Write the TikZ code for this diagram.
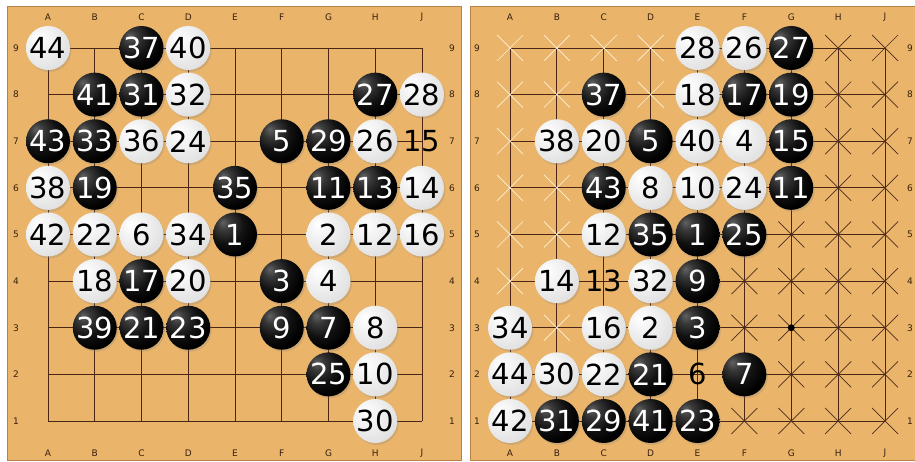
\documentclass[tikz,border=0pt]{standalone}
\usepackage{fontspec}
\newfontfamily\numfont{DejaVu Sans}
\usetikzlibrary{shadows}
\definecolor{wood}{RGB}{234,181,106}
\definecolor{woodedge}{RGB}{185,130,70}
\definecolor{gridc}{RGB}{75,38,22}
\definecolor{lblc}{RGB}{55,30,15}
\definecolor{xwhite}{RGB}{252,242,215}
\definecolor{xdark}{RGB}{75,45,28}
\pgfdeclareradialshading{blackstone}{\pgfpoint{-14bp}{14bp}}{color(0bp)=(black!62); color(8bp)=(black!78); color(20bp)=(black!93); color(32bp)=(black); color(80bp)=(black)}
\pgfdeclareradialshading{whitestone}{\pgfpoint{-12bp}{12bp}}{color(0bp)=(white); color(14bp)=(white!95!black); color(34bp)=(white!88!black); color(52bp)=(white!77!black); color(80bp)=(white!65!black)}
\begin{document}
\begin{tikzpicture}[x=1pt,y=1pt,
  board/.style={fill=wood, draw=woodedge, line width=1pt},
  gridline/.style={draw=gridc, line width=0.9pt},
  stonebase/.style={circle, minimum size=44pt, inner sep=0pt,
    font=\numfont\fontsize{29}{29}\selectfont,
    drop shadow={shadow xshift=1.5pt, shadow yshift=-2pt, opacity=0.25}},
  bst/.style={stonebase, shading=blackstone, text=white},
  wst/.style={stonebase, shading=whitestone, text=black},
  txt/.style={inner sep=0pt, font=\numfont\fontsize{29}{29}\selectfont, text=black},
  coordlbl/.style={inner sep=0pt, font=\numfont\fontsize{9}{9}\selectfont, text=lblc},
  wx/.style={draw=xwhite, line width=0.7pt},
  dx/.style={draw=xdark, line width=0.7pt}]
\useasboundingbox (0,0) rectangle (915,462);
\clip (0,0) rectangle (915,462);
\fill[white] (0,0) rectangle (915,462);
% boards
\draw[board] (7,1) rectangle (461,455);
\draw[board] (470,1) rectangle (930,455);
% grid coordinates
\foreach \c [count=\i from 0] in {A,B,C,D,E,F,G,H,J}{
  \foreach \r in {1,...,9}{
    \coordinate (L\c\r) at ({48+46.75*\i},{414-46.625*(9-\r)});
    \coordinate (R\c\r) at ({510+46.875*\i},{414-46.625*(9-\r)});
  }
}
% grid lines
\foreach \c in {A,B,C,D,E,F,G,H,J}{
  \draw[gridline] (L\c9) -- (L\c1);
  \draw[gridline] (R\c9) -- (R\c1);
}
\foreach \r in {1,...,9}{
  \draw[gridline] (LA\r) -- (LJ\r);
  \draw[gridline] (RA\r) -- (RJ\r);
}
% coordinate labels
\foreach \c in {A,B,C,D,E,F,G,H,J}{
  \node[coordlbl] at ([yshift=31pt]L\c9) {\c};
  \node[coordlbl] at ([yshift=-32pt]L\c1) {\c};
  \node[coordlbl] at ([yshift=31pt]R\c9) {\c};
  \node[coordlbl] at ([yshift=-32pt]R\c1) {\c};
}
\foreach \r in {1,...,9}{
  \node[coordlbl] at ([xshift=-32pt]LA\r) {\r};
  \node[coordlbl] at ([xshift=30pt]LJ\r) {\r};
  \node[coordlbl] at ([xshift=-33pt]RA\r) {\r};
  \node[coordlbl] at ([xshift=25pt]RJ\r) {\r};
}
% right board cross marks
\foreach \p in {A9,B9,C9,D9,A8,B8,D8,A7,A6,B6,A5,B5,A4,B3}{
  \draw[wx] ([shift={(-13pt,-13pt)}]R\p) -- ([shift={(13pt,13pt)}]R\p)
            ([shift={(-13pt,13pt)}]R\p) -- ([shift={(13pt,-13pt)}]R\p);
}
\foreach \p in {H9,J9,H8,J8,H7,J7,H6,J6,G5,H5,J5,F4,G4,H4,J4,F3,G3,H3,J3,G2,H2,J2,F1,G1,H1,J1}{
  \draw[dx] ([shift={(-13pt,-13pt)}]R\p) -- ([shift={(13pt,13pt)}]R\p)
            ([shift={(-13pt,13pt)}]R\p) -- ([shift={(13pt,-13pt)}]R\p);
}
\fill[black] (RG3) circle (3.5pt);
% left board stones
\foreach \p/\n in {C9/37,B8/41,C8/31,H8/27,A7/43,B7/33,F7/5,G7/29,B6/19,E6/35,G6/11,H6/13,E5/1,C4/17,F4/3,B3/39,C3/21,D3/23,F3/9,G3/7,G2/25}{
  \node[bst] (LS\p) at (L\p) {\makebox[0pt]{\n}};
}
\foreach \p/\n in {A9/44,D9/40,D8/32,J8/28,C7/36,D7/24,H7/26,A6/38,J6/14,A5/42,B5/22,C5/6,D5/34,G5/2,H5/12,J5/16,B4/18,D4/20,G4/4,H3/8,H2/10,H1/30}{
  \node[wst] (LS\p) at (L\p) {\makebox[0pt]{\n}};
}
\node[txt] (LSJ7) at (LJ7) {15};
% right board stones
\foreach \p/\n in {G9/27,C8/37,F8/17,G8/19,D7/5,G7/15,C6/43,G6/11,D5/35,E5/1,F5/25,E4/9,E3/3,D2/21,F2/7,B1/31,C1/29,D1/41,E1/23}{
  \node[bst] (RS\p) at (R\p) {\makebox[0pt]{\n}};
}
\foreach \p/\n in {E9/28,F9/26,E8/18,B7/38,C7/20,E7/40,F7/4,D6/8,E6/10,F6/24,C5/12,B4/14,D4/32,A3/34,C3/16,D3/2,A2/44,B2/30,C2/22,A1/42}{
  \node[wst] (RS\p) at (R\p) {\makebox[0pt]{\n}};
}
\node[txt] (RSC4) at (RC4) {13};
\node[txt] (RSE2) at (RE2) {6};
\end{tikzpicture}
\end{document}
